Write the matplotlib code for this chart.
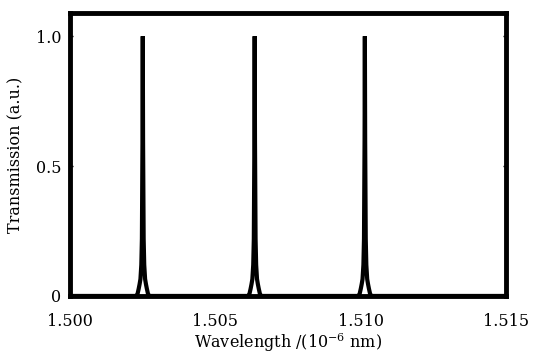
import numpy as np
import matplotlib
matplotlib.use("Agg")
import matplotlib.pyplot as plt

# peak centres (nm scale as on the axis)
peak_centres = [1.50251, 1.50636, 1.51015]
# one-sided profile of a peak: offset from centre and transmission
profile_offset = [0.0, 0.00001, 0.00003, 0.00005, 0.00008, 0.00011, 0.00014, 0.00018, 0.00022]
profile_value = [1.0, 0.6, 0.22, 0.12, 0.065, 0.045, 0.028, 0.008, 0.0]

x_range = [1.500, 1.515]
y_ticks = [0, 0.5, 1.0]
y_ticklabels = ["0", "0.5", "1.0"]
x_ticks = [1.500, 1.505, 1.510, 1.515]
x_ticklabels = ["1.500", "1.505", "1.510", "1.515"]

# assemble the trace from the read profile
wl = [x_range[0]]
tr = [0.0]
for c in peak_centres:
    for o, v in zip(profile_offset[::-1], profile_value[::-1]):
        wl.append(c - o)
        tr.append(v)
    for o, v in zip(profile_offset[1:], profile_value[1:]):
        wl.append(c + o)
        tr.append(v)
wl.append(x_range[1])
tr.append(0.0)

plt.rcParams["font.family"] = ["DejaVu Serif"]
plt.rcParams["mathtext.fontset"] = "dejavuserif"

fig = plt.figure(figsize=(5.37, 3.57), dpi=100)
ax = fig.add_axes([0.130, 0.171, 0.812, 0.793])

ax.plot(wl, tr, color="black", lw=3.0, solid_joinstyle="miter")

ax.set_xlim(x_range)
ax.set_ylim(0, 1.09)
ax.set_xticks(x_ticks)
ax.set_xticklabels(x_ticklabels)
ax.set_yticks(y_ticks)
ax.set_yticklabels(y_ticklabels)

for s in ax.spines.values():
    s.set_linewidth(3.5)

ax.tick_params(axis="x", length=0, pad=12, labelsize=11.5)
ax.tick_params(axis="y", direction="in", length=2, width=1, right=True, pad=6, labelsize=11.5)

ax.set_xlabel(r"Wavelength /(10$^{-6}$ nm)", fontsize=11.5, labelpad=1)
ax.set_ylabel("Transmission (a.u.)", fontsize=11.5, labelpad=8)

fig.savefig("out.png", dpi=100)
